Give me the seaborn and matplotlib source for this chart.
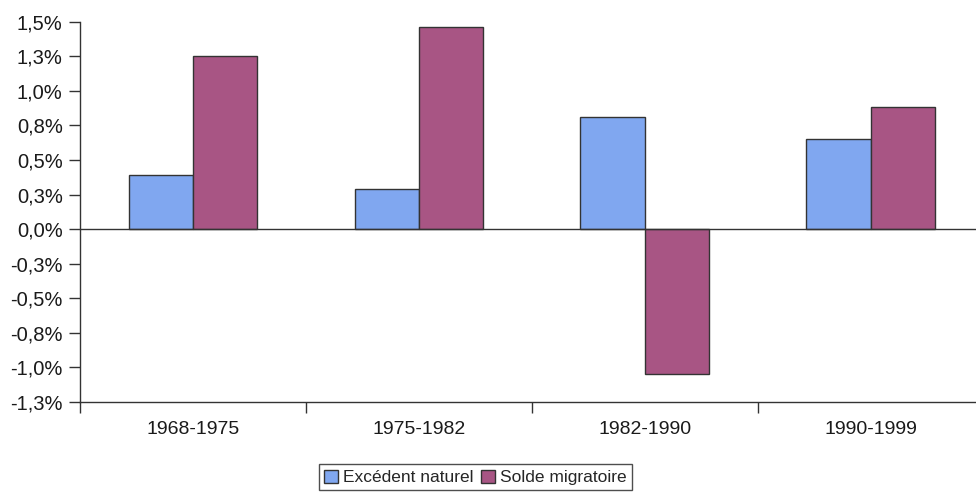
import matplotlib
matplotlib.use("Agg")
import matplotlib.pyplot as plt
import matplotlib.ticker as mticker
import numpy as np
import pandas as pd
import seaborn as sns

# Population growth components by census period (% per year)
periods = ["1968-1975", "1975-1982", "1982-1990", "1990-1999"]
excedent_naturel = [0.39, 0.29, 0.81, 0.65]
solde_migratoire = [1.25, 1.46, -1.05, 0.88]
series_names = ["Excédent naturel", "Solde migratoire"]

y_ticks = [1.5, 1.25, 1.0, 0.75, 0.5, 0.25, 0.0, -0.25, -0.5, -0.75, -1.0, -1.25]
y_tick_labels = ["1,5%", "1,3%", "1,0%", "0,8%", "0,5%", "0,3%", "0,0%",
                 "-0,3%", "-0,5%", "-0,8%", "-1,0%", "-1,3%"]

df = pd.DataFrame({
    "period": periods * 2,
    "value": excedent_naturel + solde_migratoire,
    "series": [series_names[0]] * len(periods) + [series_names[1]] * len(periods),
})

sns.set_theme(style="white")
plt.rcParams["font.family"] = ["Liberation Sans", "DejaVu Sans"]

fig = plt.figure(figsize=(9.76, 4.93), dpi=100)
ax = fig.add_axes([0.082, 0.1846, 0.926, 0.7714])

palette = {series_names[0]: "#80A7F0", series_names[1]: "#A85584"}
sns.barplot(data=df, x="period", y="value", hue="series", order=periods,
            hue_order=series_names, palette=palette, width=0.57,
            edgecolor="#333333", linewidth=1.0, saturation=1.0, ax=ax,
            legend=True)

ax.set_xlim(-0.5, len(periods) - 0.5)
ax.set_ylim(-1.25, 1.5)
ax.set_xlabel("")
ax.set_ylabel("")

ax.yaxis.set_major_locator(mticker.FixedLocator(y_ticks))
ax.yaxis.set_major_formatter(mticker.FixedFormatter(y_tick_labels))

ax.xaxis.set_minor_locator(mticker.FixedLocator(np.arange(len(periods) + 1) - 0.5))
ax.tick_params(axis="x", which="major", length=0, pad=14, labelsize=14, colors="#1a1a1a")
ax.tick_params(axis="x", which="minor", bottom=True, length=8, width=1.0, color="#333333", direction="out")
ax.tick_params(axis="y", which="major", left=True, length=8, width=1.0, color="#333333",
               direction="out", pad=4.5, labelsize=14.5, labelcolor="#1a1a1a")

for side in ("top", "right"):
    ax.spines[side].set_visible(False)
for side in ("left", "bottom"):
    ax.spines[side].set_color("#333333")
    ax.spines[side].set_linewidth(1.0)

ax.axhline(0, color="#333333", linewidth=1.0, zorder=3)

handles, labels = ax.get_legend_handles_labels()
ax.legend_.remove()
leg = fig.legend(handles, labels, loc="upper center", bbox_to_anchor=(0.487, 0.058),
                 ncol=2, frameon=True, fancybox=False, fontsize=12.5,
                 handlelength=0.8, handleheight=0.8, handletextpad=0.3,
                 columnspacing=0.4, borderpad=0.3, borderaxespad=0)
leg.get_frame().set_edgecolor("#222222")
leg.get_frame().set_linewidth(1.0)

fig.savefig("out.png", dpi=100)
